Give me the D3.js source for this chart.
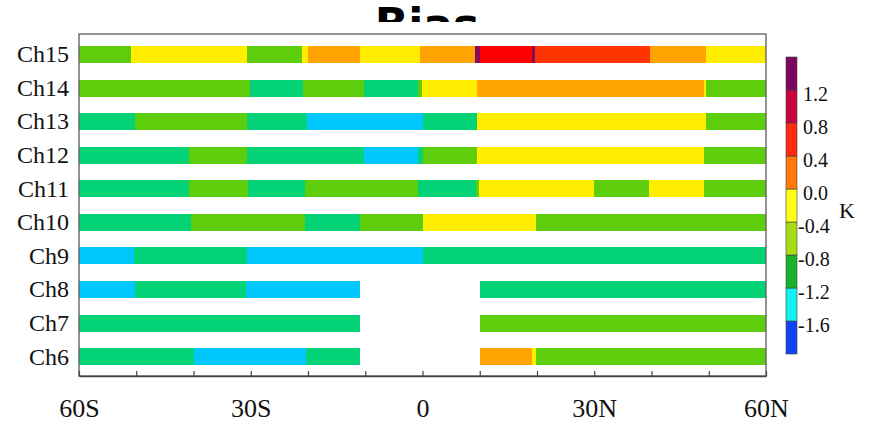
<!DOCTYPE html>
<html>
<head>
<meta charset="utf-8">
<script src="https://cdn.jsdelivr.net/npm/d3@7"></script>
<style>
  body { margin: 0; background: #fff; }
  svg { display: block; }
</style>
</head>
<body>
<svg id="chart" width="872" height="425"></svg>
<script>
// channels, top to bottom
var channels = ["Ch15", "Ch14", "Ch13", "Ch12", "Ch11", "Ch10", "Ch9", "Ch8", "Ch7", "Ch6"];

// latitude edges of each segment and the bias (K) inside it, null = no data
var ch15Edges = [-60, -51, -30.6, -21, -20, -11, -0.5, 9.2, 10, 19.2, 19.7, 39.7, 49.6, 60];
var ch15Bias  = [-0.6, -0.2, -0.6, -0.2, 0.2, -0.2, 0.2, 1.4, 1.0, 1.4, 0.6, 0.2, -0.2];
var ch14Edges = [-60, -30.1, -20.8, -10.3, -0.7, -0.1, 9.5, 49.2, 49.6, 60];
var ch14Bias  = [-0.6, -1.0, -0.6, -1.0, -0.6, -0.2, 0.2, -0.2, -0.6];
var ch13Edges = [-60, -50.2, -30.6, -20.1, 0, 9.6, 49.5, 60];
var ch13Bias  = [-1.0, -0.6, -1.0, -1.4, -1.0, -0.2, -0.6];
var ch12Edges = [-60, -40.8, -30.6, -10.3, -0.7, 0, 9.6, 49.2, 60];
var ch12Bias  = [-1.0, -0.6, -1.0, -1.4, -1.0, -0.6, -0.2, -0.6];
var ch11Edges = [-60, -40.7, -30.4, -20.5, -0.8, 9.3, 9.9, 30, 39.5, 49.1, 60];
var ch11Bias  = [-1.0, -0.6, -1.0, -0.6, -1.0, -0.6, -0.2, -0.6, -0.2, -0.6];
var ch10Edges = [-60, -40.4, -20.5, -10.9, 0, 19.9, 60];
var ch10Bias  = [-1.0, -0.6, -1.0, -0.6, -0.2, -0.6];
var ch9Edges  = [-60, -50.4, -30.7, 0, 60];
var ch9Bias   = [-1.4, -1.0, -1.4, -1.0];
var ch8Edges  = [-60, -50.2, -30.8, -11, 10, 60];
var ch8Bias   = [-1.4, -1.0, -1.4, null, -1.0];
var ch7Edges  = [-60, -11, 10, 60];
var ch7Bias   = [-1.0, null, -0.6];
var ch6Edges  = [-60, -40, -20.3, -11, 10, 19.2, 19.8, 60];
var ch6Bias   = [-1.0, -1.4, -1.0, null, 0.2, -0.2, -0.6];

var latTicks = [-60, -50, -40, -30, -20, -10, 0, 10, 20, 30, 40, 50, 60];
var latLabels = {"-60": "60S", "-30": "30S", "0": "0", "30": "30N", "60": "60N"};

// colour levels
var levels = [-1.6, -1.2, -0.8, -0.4, 0, 0.4, 0.8, 1.2];
var barColors = ["#1e50f0", "#00c8ff", "#04d277", "#5ecd0b", "#ffed00", "#ffa400", "#ff3300", "#ff0000", "#8a0a5a"];
var cbEdges = [-2.0, -1.6, -1.2, -0.8, -0.4, 0, 0.4, 0.8, 1.2, 1.6];
var cbColors = ["#1044f2", "#12f2f2", "#1ab22a", "#a6de12", "#ffff12", "#ff7a0a", "#ff2a10", "#c8023e", "#7c0562"];
var cbTicks = [-1.6, -1.2, -0.8, -0.4, 0, 0.4, 0.8, 1.2];

var rows = [
    {ch: "Ch15", edges: ch15Edges, bias: ch15Bias},
    {ch: "Ch14", edges: ch14Edges, bias: ch14Bias},
    {ch: "Ch13", edges: ch13Edges, bias: ch13Bias},
    {ch: "Ch12", edges: ch12Edges, bias: ch12Bias},
    {ch: "Ch11", edges: ch11Edges, bias: ch11Bias},
    {ch: "Ch10", edges: ch10Edges, bias: ch10Bias},
    {ch: "Ch9",  edges: ch9Edges,  bias: ch9Bias},
    {ch: "Ch8",  edges: ch8Edges,  bias: ch8Bias},
    {ch: "Ch7",  edges: ch7Edges,  bias: ch7Bias},
    {ch: "Ch6",  edges: ch6Edges,  bias: ch6Bias}
];

var svg = d3.select("#chart");
var serif = "'Liberation Serif', 'DejaVu Serif', serif";

var x = d3.scaleLinear().domain([-60, 60]).range([79, 766]);
var y = d3.scalePoint().domain(channels).range([54.5, 356.7]);
var barH = 17;
var color = d3.scaleThreshold().domain(levels).range(barColors);

// title, its lower half hidden behind the plot like in the figure
svg.append("clipPath").attr("id", "titleClip")
    .append("rect").attr("x", 0).attr("y", 0).attr("width", 872).attr("height", 22);
svg.append("text")
    .attr("clip-path", "url(#titleClip)")
    .attr("x", 427).attr("y", 39.5)
    .attr("text-anchor", "middle")
    .attr("font-family", "'DejaVu Sans', sans-serif")
    .attr("font-weight", "bold")
    .attr("font-size", 44)
    .text("Bias");

// segments
var segs = [];
rows.forEach(function (r) {
    r.bias.forEach(function (b, i) {
        if (b === null) return;
        segs.push({ch: r.ch, x0: r.edges[i], x1: r.edges[i + 1], v: b});
    });
});

svg.append("g").selectAll("rect").data(segs).enter().append("rect")
    .attr("x", function (d) { return x(d.x0); })
    .attr("width", function (d) { return x(d.x1) - x(d.x0); })
    .attr("y", function (d) { return y(d.ch) - barH / 2; })
    .attr("height", barH)
    .attr("fill", function (d) { return color(d.v); })
    .attr("shape-rendering", "crispEdges");

// frame
svg.append("rect")
    .attr("x", 79).attr("y", 34)
    .attr("width", 766 - 79).attr("height", 376 - 34)
    .attr("fill", "none").attr("stroke", "#666").attr("stroke-width", 1.4);

// x axis
var xAxis = d3.axisBottom(x)
    .tickValues(latTicks)
    .tickSizeInner(-5).tickSizeOuter(0).tickPadding(23)
    .tickFormat(function (d) { return latLabels[d] || ""; });
var gx = svg.append("g").attr("transform", "translate(0,376)").call(xAxis);
gx.select(".domain").attr("stroke", "#444").attr("stroke-width", 1.4);
gx.selectAll(".tick line").attr("stroke", "#444").attr("stroke-width", 1.2);
gx.selectAll("text").attr("font-family", serif).attr("font-size", 26).attr("fill", "#111");

// channel labels
svg.append("g").selectAll("text").data(channels).enter().append("text")
    .attr("x", 69)
    .attr("y", function (d) { return y(d) + 7.8; })
    .attr("text-anchor", "end")
    .attr("font-family", serif)
    .attr("font-size", 24)
    .attr("fill", "#111")
    .text(function (d) { return d; });

// colour bar
var cb = d3.scaleLinear().domain([-2.0, 1.6]).range([354, 57]);
var cbg = svg.append("g");
cbg.selectAll("rect").data(cbColors).enter().append("rect")
    .attr("x", 786).attr("width", 11)
    .attr("y", function (d, i) { return cb(cbEdges[i + 1]); })
    .attr("height", function (d, i) { return cb(cbEdges[i]) - cb(cbEdges[i + 1]); })
    .attr("fill", function (d) { return d; })
    .attr("stroke", "#444").attr("stroke-width", 0.6);
cbg.selectAll("text").data(cbTicks).enter().append("text")
    .attr("x", function (d) { return d < 0 ? 798 : 803; })
    .attr("y", function (d) { return cb(d) + 10.5; })
    .attr("font-family", serif)
    .attr("font-size", 20)
    .attr("fill", "#111")
    .text(function (d) { return d3.format(".1f")(d).replace("−", "-"); });
svg.append("text")
    .attr("x", 839).attr("y", 218)
    .attr("font-family", serif)
    .attr("font-size", 22)
    .attr("fill", "#111")
    .text("K");
</script>
</body>
</html>
